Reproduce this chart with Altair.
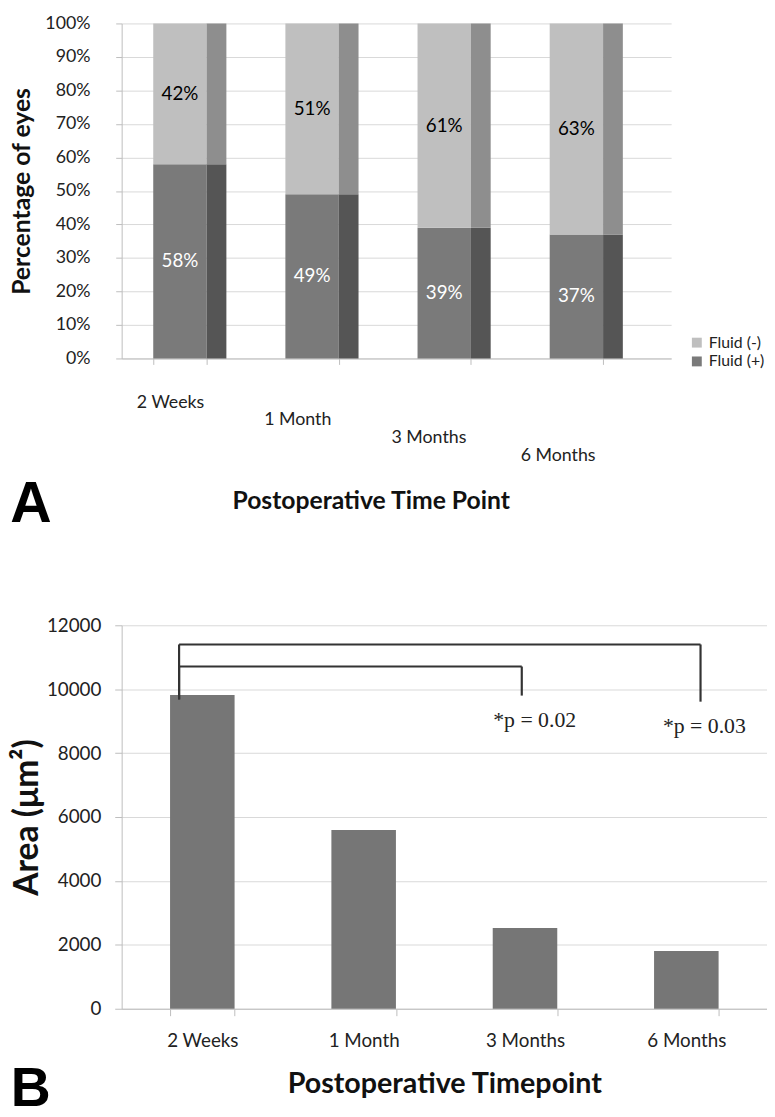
import altair as alt
import pandas as pd

# ---------------- data ----------------
categories = ["2 Weeks", "1 Month", "3 Months", "6 Months"]
series_names = ["Fluid (-)", "Fluid (+)"]
fluid_neg = [42, 51, 61, 63]
fluid_pos = [58, 49, 39, 37]

area_values = [9820, 5590, 2530, 1810]

bracket_start = ["2 Weeks", "2 Weeks"]
bracket_end = ["3 Months", "6 Months"]
bracket_top = [10710, 11400]
bracket_left_bottom = [9680, 9680]
bracket_right_bottom = [9800, 9610]
p_labels = ["*p = 0.02", "*p = 0.03"]
p_label_value = [9020, 8860]

# ---------------- styles ----------------
FONT = "Lato"
LIGHT = "#bfbfbf"
DARK = "#7a7a7a"
LIGHT_SIDE = "#8e8e8e"
DARK_SIDE = "#555555"
GRID = "#d9d9d9"
AXIS = "#bdbdbd"

rows = []
for c, n, p in zip(categories, fluid_neg, fluid_pos):
    rows.append({"time": c, "series": "Fluid (+)", "pct": p, "rank": 0,
                 "mid": p / 2, "label": f"{p}%"})
    rows.append({"time": c, "series": "Fluid (-)", "pct": n, "rank": 1,
                 "mid": p + n / 2, "label": f"{n}%"})
dfA = pd.DataFrame(rows)

pad_expr = ("datum.value == '2 Weeks' ? 30 : datum.value == '1 Month' ? 47 : "
            "datum.value == '3 Months' ? 65 : 83")
off_expr = ("datum.value == '2 Weeks' ? -10 : datum.value == '1 Month' ? -15 : "
            "datum.value == '3 Months' ? -16 : -19")

axisXA = alt.Axis(
    title="Postoperative Time Point", labelAngle=0, tickBand="extent",
    domainColor=AXIS, tickColor=AXIS, tickSize=6,
    labelFontSize=18, labelColor="#222222",
    labelPadding={"expr": pad_expr}, labelOffset={"expr": off_expr},
    titleFontSize=25, titleFontWeight="bold", titlePadding=25,
    titleColor="#111111", titleX=252, titleAnchor="middle",
)
axisYA = alt.Axis(
    title="Percentage of eyes", values=list(range(0, 101, 10)),
    labelExpr="datum.value + '%'", labelOverlap=False, grid=True,
    gridColor=GRID, domainColor=AXIS, tickColor=AXIS, tickSize=6,
    labelPadding=26, labelFontSize=18, labelColor="#222222",
    titleFontSize=25, titleFontWeight="bold", titlePadding=10,
    titleColor="#111111",
)
scaleXA = alt.Scale(domain=categories, paddingInner=0.596,
                    paddingOuter=0.377, align=0.317)
scaleYA = alt.Scale(domain=[0, 100])

xA = alt.X("time:N", scale=scaleXA, axis=axisXA)

colorA = alt.Color(
    "series:N",
    scale=alt.Scale(domain=series_names, range=[LIGHT, DARK]),
    legend=alt.Legend(
        title=None, orient="none", legendX=574, legendY=315,
        symbolType="square", symbolSize=100, symbolStrokeWidth=0,
        labelFontSize=16, labelColor="#222222", rowPadding=3,
    ),
)

baseA = alt.Chart(dfA)
front = baseA.mark_bar().encode(
    x=xA,
    y=alt.Y("pct:Q", stack="zero", scale=scaleYA, axis=axisYA),
    color=colorA, order=alt.Order("rank:Q"),
)
side = baseA.mark_bar(width=20, xOffset=37).encode(
    x=xA,
    y=alt.Y("pct:Q", stack="zero", scale=scaleYA, axis=axisYA),
    order=alt.Order("rank:Q"),
    color=alt.condition(alt.datum.series == "Fluid (+)",
                        alt.value(DARK_SIDE), alt.value(LIGHT_SIDE)),
)
labelsA = baseA.mark_text(fontSize=19, font=FONT).encode(
    x=xA,
    y=alt.Y("mid:Q", scale=scaleYA, axis=axisYA),
    text="label:N",
    color=alt.condition(alt.datum.series == "Fluid (+)",
                        alt.value("white"), alt.value("black")),
)

chartA = alt.layer(front, side, labelsA).properties(
    width=556, height=339,
    title=alt.TitleParams("A", orient="bottom", anchor="start", frame="bounds",
                          fontSize=58, font="Liberation Sans",
                          fontWeight="bold", offset=-38, color="black"),
)

# ---------------- panel B ----------------
dfB = pd.DataFrame({"time": categories, "area": area_values})
xB = alt.X(
    "time:N",
    scale=alt.Scale(domain=categories, paddingInner=0.6, paddingOuter=0.3),
    axis=alt.Axis(
        title="Postoperative Timepoint", labelAngle=0, tickBand="extent",
        domainColor=AXIS, tickColor=AXIS, tickSize=7, labelPadding=16,
        labelFontSize=19, labelColor="#222222",
        titleFontSize=29, titleFontWeight="bold", titlePadding=20,
        titleColor="#111111",
    ),
)
yB = alt.Y(
    "area:Q", scale=alt.Scale(domain=[0, 12000]),
    axis=alt.Axis(
        title="Area (μm²)", values=list(range(0, 12001, 2000)), format="d",
        grid=True, gridColor=GRID, domainColor=AXIS, tickColor=AXIS,
        tickSize=7, labelPadding=14, labelFontSize=19, labelColor="#222222",
        titleFontSize=34, titleFontWeight="bold", titlePadding=2,
        titleColor="#111111",
    ),
)
barsB = alt.Chart(dfB).mark_bar(color="#767676").encode(x=xB, y=yB)

dfBr = pd.DataFrame({
    "start": bracket_start, "end": bracket_end, "top": bracket_top,
    "lb": bracket_left_bottom, "rb": bracket_right_bottom,
    "plabel": p_labels, "pv": p_label_value,
})
right_band = [0.45, 0.72]
text_band = [0.65, 0.78]
left_band = 0.14

layersB = [barsB]
for i in range(len(dfBr)):
    d = alt.Chart(dfBr.iloc[[i]])
    horiz = d.mark_rule(color="#333333", strokeWidth=2.2).encode(
        x=alt.X("start:N", bandPosition=left_band),
        x2=alt.X2("end:N", bandPosition=right_band[i]),
        y=alt.Y("top:Q"),
    )
    leftv = d.mark_rule(color="#333333", strokeWidth=2.2).encode(
        x=alt.X("start:N", bandPosition=left_band),
        y=alt.Y("lb:Q"), y2="top:Q",
    )
    rightv = d.mark_rule(color="#333333", strokeWidth=2.2).encode(
        x=alt.X("end:N", bandPosition=right_band[i]),
        y=alt.Y("rb:Q"), y2="top:Q",
    )
    ptxt = d.mark_text(font="Liberation Serif", fontSize=22,
                       color="#222222").encode(
        x=alt.X("end:N", bandPosition=text_band[i]),
        y=alt.Y("pv:Q"), text="plabel:N",
    )
    layersB += [horiz, leftv, rightv, ptxt]

chartB = alt.layer(*layersB).properties(
    width=653, height=388,
    title=alt.TitleParams("B", orient="bottom", anchor="start", frame="bounds",
                          fontSize=56, font="Liberation Sans",
                          fontWeight="bold", offset=-37, color="black"),
)

chart = alt.vconcat(chartA, chartB, spacing=84).properties(
    padding={"top": 0, "left": 2, "right": 0, "bottom": 0}
).configure(
    font=FONT,
).configure_view(stroke=None).configure_axis(
    labelFont=FONT, titleFont=FONT,
).configure_legend(labelFont=FONT)

chart.save("out.html", embed_options={"renderer": "svg", "actions": False})
